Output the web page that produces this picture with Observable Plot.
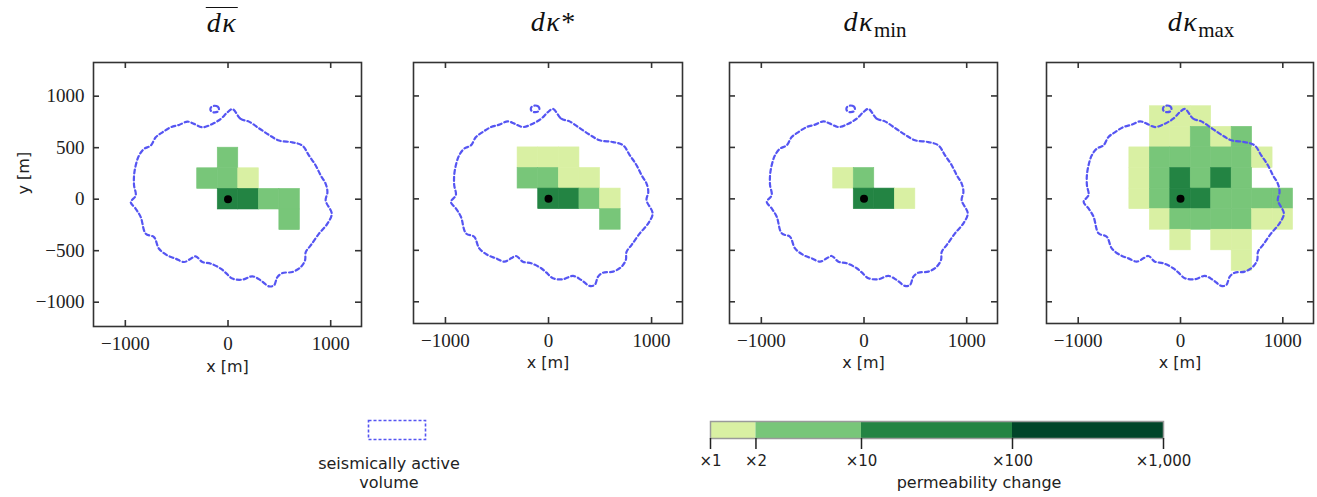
<!DOCTYPE html>
<html>
<head>
<meta charset="utf-8">
<script src="https://cdn.jsdelivr.net/npm/d3@7"></script>
<script src="https://cdn.jsdelivr.net/npm/@observablehq/plot@0.6"></script>
<style>
  html, body { margin: 0; padding: 0; background: #fff; }
  #fig { position: relative; width: 1317px; height: 497px; overflow: hidden; background: #fff; }
  .abs { position: absolute; }
  .abs svg { max-width: none !important; display: block; }
  .title { position: absolute; top: 7px; font-family: "Liberation Serif", serif; font-size: 28px; line-height: 30px;
           color: #111; transform: translateX(-50%); white-space: nowrap; }
  .title i { font-style: italic; letter-spacing: 1.5px; }
  .title sub { font-style: normal; font-size: 21px; vertical-align: -6px; }
  .ov { display: inline-block; border-top: 1.6px solid #111; line-height: 30px; padding: 0 1px; }
  .legtext { position: absolute; font-family: "DejaVu Sans", sans-serif; font-size: 16px; line-height: 19px;
             color: #222; text-align: center; transform: translateX(-50%); white-space: nowrap; }
</style>
</head>
<body>
<div id="fig"></div>
<script>
// ---------------- data ----------------
const xTicks = [-1000, 0, 1000];
const yTicks = [-1000, -500, 0, 500, 1000];
const xLabel = "x [m]";
const yLabel = "y [m]";
const cellSize = 200;
const injectionPoint = [[0, 0]];

// seismically active volume outline [x, y] in metres
const activeVolumeOutline = [
  [43, 874], [124, 779], [204, 753], [302, 688], [399, 624], [497, 569], [627, 552], [724, 520],
  [789, 423], [854, 327], [903, 230], [951, 149], [968, 68], [951, -13], [1010, -141], [968, -238],
  [886, -335], [805, -449], [757, -514], [750, -594], [708, -659], [627, -707], [530, -717], [481, -756],
  [448, -836], [399, -846], [318, -788], [238, -749], [140, -781], [43, -771], [-22, -715], [-71, -674],
  [-168, -626], [-249, -610], [-315, -555], [-363, -578], [-428, -610], [-509, -578], [-590, -546],
  [-672, -481], [-721, -368], [-801, -335], [-850, -174], [-899, -93], [-947, -29], [-899, 36],
  [-915, 133], [-915, 230], [-899, 327], [-867, 423], [-818, 488], [-753, 520], [-704, 601],
  [-639, 649], [-558, 698], [-477, 721], [-395, 753], [-331, 731], [-249, 698], [-152, 731],
  [-71, 779], [-6, 843]
];
const activeVolumeLoop = [
  [-88, 874], [-100, 898], [-130, 907], [-160, 898], [-172, 874], [-160, 850], [-130, 842], [-100, 850]
];

// permeability-change cells: [x centre, y centre, lower bound of change class]
const cellsMean = [
  [0, 400, 2],
  [-200, 200, 2], [0, 200, 2], [200, 200, 1],
  [0, 0, 10], [200, 0, 10], [400, 0, 2], [600, 0, 2],
  [600, -200, 2]
];
const cellsStar = [
  [-200, 400, 1], [0, 400, 1], [200, 400, 1],
  [-200, 200, 2], [0, 200, 2], [200, 200, 1], [400, 200, 1],
  [0, 0, 10], [200, 0, 10], [400, 0, 2], [600, 0, 1],
  [600, -200, 2]
];
const cellsMin = [
  [-200, 200, 1], [0, 200, 2],
  [0, 0, 10], [200, 0, 10], [400, 0, 1]
];
const cellsMax = [
  [-200, 800, 1], [0, 800, 1], [200, 800, 1],
  [-200, 600, 1], [0, 600, 1], [200, 600, 2], [400, 600, 1], [600, 600, 2],
  [-400, 400, 1], [-200, 400, 2], [0, 400, 2], [200, 400, 2], [400, 400, 2], [600, 400, 2], [800, 400, 1],
  [-400, 200, 1], [-200, 200, 2], [0, 200, 10], [200, 200, 2], [400, 200, 10], [600, 200, 2],
  [-400, 0, 1], [-200, 0, 2], [0, 0, 10], [200, 0, 10], [400, 0, 2], [600, 0, 2], [800, 0, 2], [1000, 0, 2],
  [-200, -200, 1], [0, -200, 2], [200, -200, 2], [400, -200, 2], [600, -200, 2], [800, -200, 1], [1000, -200, 1],
  [0, -400, 1], [400, -400, 1], [600, -400, 1],
  [600, -600, 1]
];

const changeBreaks = [1, 2, 10, 100, 1000];
const changeColors = ["#d9f0a3", "#78c679", "#238443", "#004529"];
const legendVolumeText = ["seismically active", "volume"];
const legendChangeLabel = "permeability change";

const titlesHTML = [
  '<span class="ov"><i>dκ</i></span>',
  '<i>dκ</i>*',
  '<i>dκ</i><sub>min</sub>',
  '<i>dκ</i><sub>max</sub>'
];
const titleCenters = [222, 553, 875, 1201];

// ---------------- drawing ----------------
const fig = document.getElementById("fig");
const colorScale = {type: "threshold", domain: changeBreaks.slice(1, 4), range: changeColors};
const serif = "Liberation Serif, serif";
const sans = "DejaVu Sans, sans-serif";
const frameColor = "#333";
const lineColor = "#5555f2";
const dash = "4,3";

function panel(cells, o) {
  const plotW = o.plotW, plotH = o.height - 62 - o.mB;
  const svg = Plot.plot({
    width: o.mL + plotW + o.mR,
    height: o.height,
    marginLeft: o.mL, marginRight: o.mR, marginTop: 62, marginBottom: o.mB,
    x: {domain: [-1310, 1300], label: null, axis: null},
    y: {domain: o.yDomain, label: null, axis: null},
    color: colorScale,
    style: {background: "transparent", overflow: "visible"},
    marks: [
      Plot.rect(cells, {
        x1: d => d[0] - cellSize / 2, x2: d => d[0] + cellSize / 2,
        y1: d => d[1] - cellSize / 2, y2: d => d[1] + cellSize / 2,
        fill: d => d[2], stroke: d => d[2], strokeWidth: 0.6
      }),
      Plot.line(activeVolumeOutline, {x: d => d[0], y: d => d[1], curve: "catmull-rom-closed",
        stroke: lineColor, strokeWidth: 2.2, strokeDasharray: dash}),
      Plot.line(activeVolumeLoop, {x: d => d[0], y: d => d[1], curve: "catmull-rom-closed",
        stroke: lineColor, strokeWidth: 2.2, strokeDasharray: dash}),
      Plot.dot(injectionPoint, {x: d => d[0], y: d => d[1], r: 4, fill: "#000", stroke: null}),
      Plot.frame({stroke: frameColor, strokeWidth: 1.6}),
      Plot.tickX(xTicks, {x: d => d, insetTop: plotH - 6, stroke: frameColor, strokeWidth: 1.6}),
      Plot.tickX(xTicks, {x: d => d, insetBottom: plotH - 6, stroke: frameColor, strokeWidth: 1.6}),
      Plot.tickY(yTicks, {y: d => d, insetLeft: plotW - 6, stroke: frameColor, strokeWidth: 1.6}),
      Plot.tickY(yTicks, {y: d => d, insetRight: plotW - 6, stroke: frameColor, strokeWidth: 1.6}),
      Plot.axisX(xTicks, {anchor: "bottom", tickSize: 0, tickPadding: 10, label: null,
        tickFormat: d3.format("d"), fontSize: 19, fontFamily: serif, fill: "#222"}),
      o.showY ? Plot.axisY(yTicks, {anchor: "left", tickSize: 0, tickPadding: 9, label: null,
        tickFormat: d3.format("d"), fontSize: 19, fontFamily: serif, fill: "#222"}) : null,
      Plot.text([xLabel], {frameAnchor: "bottom", dy: o.xLabelDy, fontSize: 16, fontFamily: sans, fill: "#222"}),
      o.showY ? Plot.text([yLabel], {frameAnchor: "left", dx: -70, rotate: -90, fontSize: 16, fontFamily: sans, fill: "#222"}) : null
    ]
  });
  const div = document.createElement("div");
  div.className = "abs";
  div.style.left = (o.frameLeft - o.mL) + "px";
  div.style.top = "0px";
  div.appendChild(svg);
  fig.appendChild(div);
}

panel(cellsMean, {frameLeft: 93, mL: 93, mR: 8, plotW: 268, height: 390, mB: 64, yDomain: [-1236, 1327], showY: true, xLabelDy: 45});
panel(cellsStar, {frameLeft: 413, mL: 15, mR: 15, plotW: 269, height: 390, mB: 67, yDomain: [-1211, 1325], showY: false, xLabelDy: 44});
panel(cellsMin, {frameLeft: 729, mL: 15, mR: 15, plotW: 268, height: 390, mB: 67, yDomain: [-1211, 1325], showY: false, xLabelDy: 44});
panel(cellsMax, {frameLeft: 1046, mL: 15, mR: 10, plotW: 267, height: 390, mB: 67, yDomain: [-1211, 1325], showY: false, xLabelDy: 44});

// titles
titlesHTML.forEach((h, i) => {
  const t = document.createElement("div");
  t.className = "title";
  t.style.left = titleCenters[i] + "px";
  t.innerHTML = h;
  fig.appendChild(t);
});

// legend: dashed swatch
{
  const sw = Plot.plot({
    width: 61, height: 23, margin: 2,
    x: {domain: [0, 1], axis: null}, y: {domain: [0, 1], axis: null},
    style: {background: "transparent"},
    marks: [Plot.frame({stroke: lineColor, strokeWidth: 1.6, strokeDasharray: "3,2"})]
  });
  const d = document.createElement("div");
  d.className = "abs"; d.style.left = "366px"; d.style.top = "418px";
  d.appendChild(sw); fig.appendChild(d);
  const t = document.createElement("div");
  t.className = "legtext"; t.style.left = "389px"; t.style.top = "454px";
  t.innerHTML = legendVolumeText.join("<br>");
  fig.appendChild(t);
}

// legend: colour bar
{
  const bands = changeBreaks.slice(0, -1).map((lo, i) => ({lo, hi: changeBreaks[i + 1]}));
  const cb = Plot.plot({
    width: 30 + 453 + 40, height: 79,
    marginLeft: 30, marginRight: 40, marginTop: 2, marginBottom: 60,
    x: {type: "log", domain: [1, 1000], axis: null},
    color: colorScale,
    style: {background: "transparent", overflow: "visible"},
    marks: [
      Plot.rect(bands, {x1: "lo", x2: "hi", fill: "lo"}),
      Plot.frame({stroke: "#9a9a9a", strokeWidth: 1.5}),
      Plot.axisX(changeBreaks, {anchor: "bottom", tickSize: 11, tickPadding: 6, label: null,
        tickFormat: d => "×" + d3.format(",")(d), fontSize: 15, fontFamily: sans, fill: "#222", stroke: "#222", strokeWidth: 1.5}),
      Plot.text([legendChangeLabel], {frameAnchor: "bottom", dx: 42, dy: 49, fontSize: 16, fontFamily: sans, fill: "#222"})
    ]
  });
  const d = document.createElement("div");
  d.className = "abs"; d.style.left = "680px"; d.style.top = "419px";
  d.appendChild(cb); fig.appendChild(d);
}
</script>
</body>
</html>
